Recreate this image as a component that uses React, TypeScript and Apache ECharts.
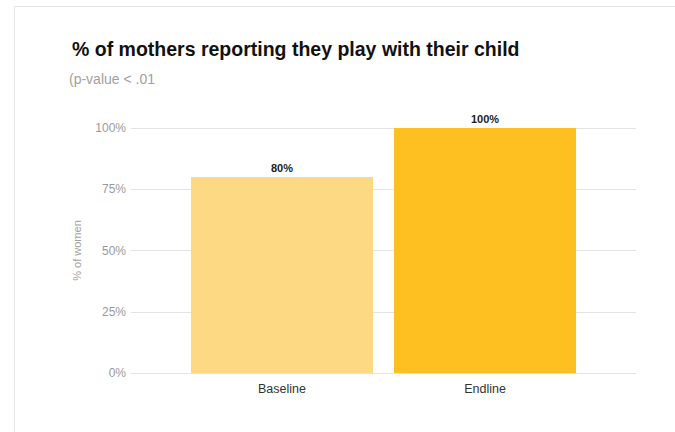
import React, { useEffect, useRef } from "react";
import * as echarts from "echarts";

const categories = ["Baseline", "Endline"];
const values = [80, 100];
const barColors = ["#fdd983", "#febf20"];
const yTicks = [0, 25, 50, 75, 100];

const FONT = "Liberation Sans, Arial, sans-serif";

export default function App() {
  const ref = useRef<HTMLDivElement>(null);
  useEffect(() => {
    if (!ref.current) return;
    const chart = echarts.init(ref.current, null, { renderer: "svg" });
    chart.setOption({
      animation: false,
      backgroundColor: "#ffffff",
      textStyle: { fontFamily: FONT },
      graphic: [
        {
          type: "rect",
          shape: { x: 14.5, y: 6.5, width: 800, height: 600 },
          style: { fill: "none", stroke: "#e6e6e6", lineWidth: 1 },
          silent: true,
        },
      ],
      title: [
        {
          text: "% of mothers reporting they play with their child",
          left: 67,
          top: 34,
          textStyle: { fontFamily: FONT, fontSize: 19.5, fontWeight: "bold", color: "#111" },
        },
        {
          text: "(p-value < .01",
          left: 64,
          top: 67,
          textStyle: { fontFamily: FONT, fontSize: 14, fontWeight: "normal", color: "#a0a0a0" },
        },
      ],
      grid: [
        { left: 131, right: 39, top: 128, bottom: 59 },
        { left: 180.5, right: 88.5, top: 128, bottom: 59 },
      ],
      xAxis: [
        { type: "value", gridIndex: 0, show: false, min: 0, max: 1 },
        {
          type: "category",
          gridIndex: 1,
          data: categories,
          axisLine: { show: false },
          axisTick: { show: false },
          axisLabel: { color: "#333", fontSize: 12.5, fontFamily: FONT, margin: 9 },
        },
      ],
      yAxis: [
        {
          type: "value",
          gridIndex: 0,
          min: 0,
          max: 100,
          interval: 25,
          name: "% of women",
          nameLocation: "middle",
          nameRotate: 90,
          nameGap: 49,
          nameTextStyle: { color: "#a0a0a0", fontSize: 11, fontFamily: FONT },
          axisLine: { show: false },
          axisTick: { show: false },
          axisLabel: {
            color: "#9a9a9a",
            fontSize: 12,
            fontFamily: FONT,
            margin: 5,
            formatter: (v: number) => (yTicks.includes(v) ? v + "%" : ""),
          },
          splitLine: { lineStyle: { color: "#e3e3e3", width: 1 } },
        },
        { type: "value", gridIndex: 1, min: 0, max: 100, show: false },
      ],
      series: [
        {
          type: "bar",
          xAxisIndex: 1,
          yAxisIndex: 1,
          barWidth: 182,
          data: values.map((v, i) => ({ value: v, itemStyle: { color: barColors[i] } })),
          label: {
            show: true,
            position: "top",
            distance: 4,
            formatter: "{c}%",
            fontSize: 11,
            fontWeight: "bold",
            color: "#222",
            fontFamily: FONT,
          },
        },
      ],
    });
    return () => chart.dispose();
  }, []);
  return (
    <div
      ref={ref}
      style={{ position: "fixed", left: 0, top: 0, width: 675, height: 432 }}
    />
  );
}
